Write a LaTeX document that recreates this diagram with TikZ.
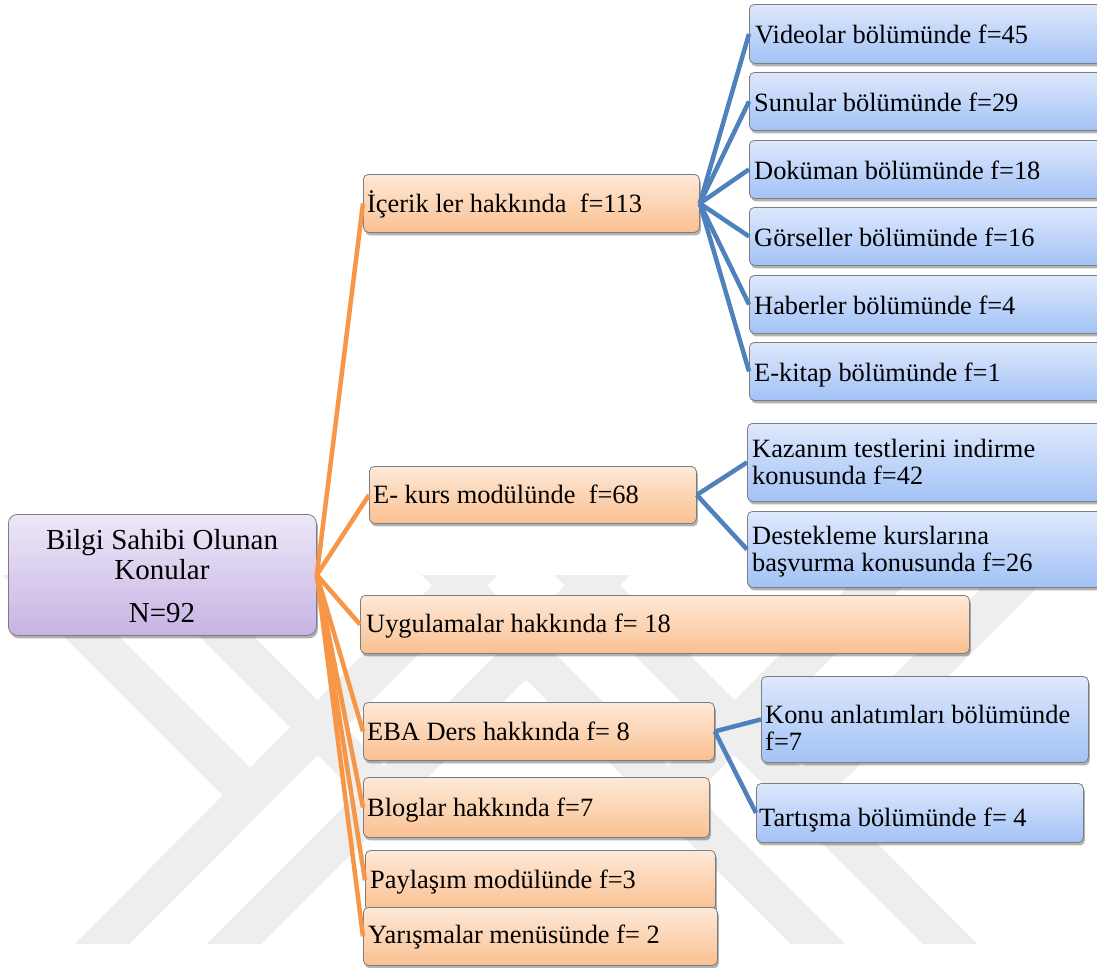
\documentclass[tikz,border=0pt]{standalone}
\usepackage{fontspec}
\setmainfont{Liberation Serif}
\usetikzlibrary{shadows}

\definecolor{olinkc}{RGB}{247,150,70}
\definecolor{blinkc}{RGB}{79,129,189}
\definecolor{otop}{RGB}{254,233,216}
\definecolor{obot}{RGB}{250,192,145}
\definecolor{btop}{RGB}{222,232,252}
\definecolor{bbot}{RGB}{162,194,246}
\definecolor{rtop}{RGB}{237,231,247}
\definecolor{rbot}{RGB}{198,180,228}
\definecolor{boxline}{RGB}{125,125,125}
\definecolor{wmgray}{RGB}{238,238,238}

\tikzset{
  box/.style={rounded corners=5pt, draw=boxline, line width=0.8pt, inner sep=0pt,
    anchor=north west,
    drop shadow={shadow xshift=1.5pt, shadow yshift=-3pt, opacity=0.3, fill=black}},
  obox/.style={box, top color=otop, bottom color=obot},
  bbox/.style={box, top color=btop, bottom color=bbot},
  rbox/.style={box, rounded corners=9pt, top color=rtop, bottom color=rbot},
  txt/.style={font=\fontsize{26.4}{27}\selectfont, inner sep=0pt, anchor=base west},
  rtxt/.style={font=\fontsize{29}{30}\selectfont, inner sep=0pt, anchor=base},
  olink/.style={draw=olinkc, line width=4.5pt},
  blink/.style={draw=blinkc, line width=4.5pt},
  wm/.style={draw=wmgray, line width=39pt},
}

\begin{document}
\begin{tikzpicture}[x=1pt,y=-1pt]
\useasboundingbox (0,0) rectangle (1097,967);
\fill[white] (0,0) rectangle (1097,967);

% background chevron mark
\begin{scope}
  \clip (0,575) rectangle (1097,943);
  \draw[wm] (10,555) -- (250,795);
  \draw[wm] (490,555) -- (83,963);
  \draw[wm] (145,555) -- (385,795);
  \draw[wm] (623,555) -- (215,963);
  \draw[wm] (907,555) -- (667,795);
  \draw[wm] (429,555) -- (837,963);
  \draw[wm] (1042,555) -- (802,795);
  \draw[wm] (562,555) -- (969,963);
\end{scope}

% root
\node[rbox, minimum width=308pt, minimum height=121pt] (root) at (8,514) {};
\node[rtxt] (root-1) at (162,549) {Bilgi Sahibi Olunan};
\node[rtxt] (root-2) at (162,579) {Konular};
\node[rtxt] (root-3) at (162,622) {N=92};

% first level
\node[obox, minimum width=336pt, minimum height=58pt] (icerik) at (363,174) {};
\node[obox, minimum width=327pt, minimum height=57pt] (ekurs) at (369,466) {};
\node[obox, minimum width=609pt, minimum height=58pt] (uyg) at (360,595) {};
\node[obox, minimum width=351pt, minimum height=58pt] (eba) at (363,702) {};
\node[obox, minimum width=346pt, minimum height=60pt] (blog) at (363,777) {};
\node[obox, minimum width=350pt, minimum height=60pt] (pay) at (365,850) {};
\node[obox, minimum width=354pt, minimum height=58pt] (yar) at (363,907) {};

\node[txt] (icerik-t) at (367,212) {İçerik ler hakkında~ f=113};
\node[txt] (ekurs-t) at (373,503) {E- kurs modülünde~ f=68};
\node[txt] (uyg-t) at (366,632) {Uygulamalar hakkında f= 18};
\node[txt] (eba-t) at (367,740) {EBA Ders hakkında f= 8};
\node[txt] (blog-t) at (367,816) {Bloglar hakkında f=7};
\node[txt] (pay-t) at (370,888) {Paylaşım modülünde f=3};
\node[txt] (yar-t) at (368,943) {Yarışmalar menüsünde f= 2};

% second level under contents
\node[bbox, minimum width=355pt, minimum height=59pt] (video) at (749,4) {};
\node[bbox, minimum width=355pt, minimum height=58pt] (sunu) at (749,72) {};
\node[bbox, minimum width=355pt, minimum height=58pt] (doku) at (749,140) {};
\node[bbox, minimum width=355pt, minimum height=58pt] (gors) at (749,207) {};
\node[bbox, minimum width=355pt, minimum height=58pt] (habe) at (749,275) {};
\node[bbox, minimum width=355pt, minimum height=58pt] (ekit) at (749,342) {};

\node[txt] (video-t) at (755,43) {Videolar bölümünde f=45};
\node[txt] (sunu-t) at (754,111) {Sunular bölümünde f=29};
\node[txt] (doku-t) at (754,179) {Doküman bölümünde f=18};
\node[txt] (gors-t) at (754,246) {Görseller bölümünde f=16};
\node[txt] (habe-t) at (754,314) {Haberler bölümünde f=4};
\node[txt] (ekit-t) at (754,381) {E-kitap bölümünde f=1};

% second level under e-course
\node[bbox, minimum width=357pt, minimum height=78pt] (kaz) at (747,423) {};
\node[bbox, minimum width=357pt, minimum height=76pt] (dest) at (747,511) {};
\node[txt] (kaz-1) at (752,457) {Kazanım testlerini indirme};
\node[txt] (kaz-2) at (752,484) {konusunda f=42};
\node[txt] (dest-1) at (752,544) {Destekleme kurslarına};
\node[txt] (dest-2) at (752,571) {başvurma konusunda f=26};

% second level under EBA course
\node[bbox, minimum width=327pt, minimum height=86pt] (konu) at (761,676) {};
\node[bbox, minimum width=327pt, minimum height=59pt] (tart) at (756,783) {};
\node[txt] (konu-1) at (765,723) {Konu anlatımları bölümünde};
\node[txt] (konu-2) at (765,750) {f=7};
\node[txt] (tart-t) at (759,826) {Tartışma bölümünde f= 4};

% connectors
\foreach \n in {icerik,ekurs,uyg,eba,blog,pay,yar}
  \draw[olink] (root.east) -- (\n.west);
\foreach \n in {video,sunu,doku,gors,habe,ekit}
  \draw[blink] (icerik.east) -- (\n.west);
\foreach \n in {kaz,dest}
  \draw[blink] (ekurs.east) -- (\n.west);
\foreach \n in {konu,tart}
  \draw[blink] (eba.east) -- (\n.west);
\end{tikzpicture}
\end{document}
